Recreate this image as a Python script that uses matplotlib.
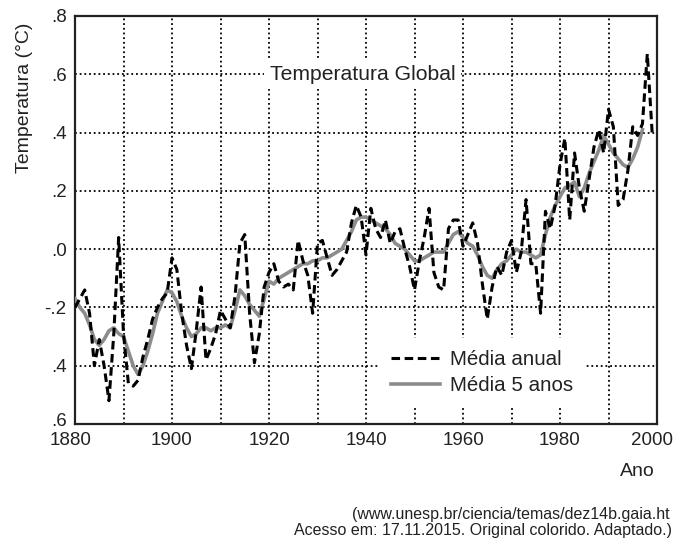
import matplotlib
matplotlib.use("Agg")
import matplotlib.pyplot as plt
import matplotlib.transforms as mtransforms

plt.rcParams['font.family'] = ['Liberation Sans', 'DejaVu Sans']

years_annual = list(range(1880, 2000))
annual = [
    -0.20, -0.17, -0.14, -0.22, -0.40, -0.31, -0.40, -0.52, -0.29, 0.04,
    -0.29, -0.46, -0.47, -0.45, -0.37, -0.31, -0.24, -0.20, -0.17, -0.15,
    -0.03, -0.07, -0.22, -0.33, -0.41, -0.28, -0.13, -0.38, -0.34, -0.29,
    -0.21, -0.24, -0.27, -0.16, 0.02, 0.05, -0.22, -0.39, -0.29, -0.13,
    -0.08, -0.05, -0.11, -0.13, -0.12, -0.14, 0.03, -0.04, -0.09, -0.22,
    0.02, 0.03, -0.03, -0.09, -0.07, -0.04, -0.01, 0.09, 0.15, 0.11,
    -0.02, 0.14, 0.07, 0.04, 0.10, 0.02, 0.06, 0.07, 0.00, -0.06,
    -0.14, -0.04, 0.04, 0.14, -0.08, -0.13, -0.14, 0.07, 0.10, 0.10,
    0.01, 0.05, 0.09, 0.02, -0.12, -0.24, -0.13, -0.06, -0.09, -0.01,
    0.03, -0.08, -0.01, 0.17, -0.05, -0.05, -0.22, 0.13, 0.07, 0.15,
    0.29, 0.38, 0.10, 0.33, 0.21, 0.13, 0.24, 0.35, 0.41, 0.33,
    0.48, 0.42, 0.15, 0.17, 0.27, 0.42, 0.39, 0.43, 0.67, 0.40,
]

years_5yr = list(range(1880, 1998))
mean5 = [
    -0.17, -0.20, -0.22, -0.26, -0.31, -0.33, -0.31, -0.28, -0.27, -0.29,
    -0.30, -0.35, -0.40, -0.43, -0.40, -0.35, -0.29, -0.22, -0.18, -0.14,
    -0.15, -0.18, -0.23, -0.27, -0.30, -0.29, -0.27, -0.27, -0.28, -0.27,
    -0.27, -0.26, -0.27, -0.21, -0.14, -0.16, -0.19, -0.21, -0.23, -0.17,
    -0.11, -0.12, -0.10, -0.09, -0.08, -0.07, -0.06, -0.05, -0.05, -0.04,
    -0.04, -0.03, -0.03, -0.02, -0.01, 0.00, 0.03, 0.06, 0.10, 0.11,
    0.11, 0.10, 0.09, 0.08, 0.07, 0.05, 0.02, 0.01, 0.00, -0.02,
    -0.04, -0.04, -0.03, -0.02, -0.01, -0.01, -0.01, 0.02, 0.05, 0.06,
    0.04, 0.02, 0.01, -0.02, -0.06, -0.09, -0.10, -0.07, -0.05, -0.04,
    -0.02, 0.00, -0.01, -0.01, -0.02, -0.03, -0.02, 0.05, 0.11, 0.15,
    0.18, 0.21, 0.22, 0.23, 0.18, 0.21, 0.26, 0.30, 0.34, 0.39,
    0.36, 0.33, 0.31, 0.29, 0.28, 0.31, 0.35, 0.41,
]

x_ticks = [1880, 1900, 1920, 1940, 1960, 1980, 2000]
x_grid = [1890, 1900, 1910, 1920, 1930, 1940, 1950, 1960, 1970, 1980, 1990]
y_ticks = [-0.6, -0.4, -0.2, 0.0, 0.2, 0.4, 0.6, 0.8]
y_ticklabels = [".6", ".4", "-.2", ".0", ".2", ".4", ".6", ".8"]
y_grid = [-0.4, -0.2, 0.0, 0.2, 0.4, 0.6]

fig = plt.figure(figsize=(6.76, 5.43), dpi=100)
ax = fig.add_axes([75/676, 1 - 424/543, (657-75)/676, (424-16)/543])

for xv in x_grid:
    ax.axvline(xv, color='black', linestyle=(0, (1, 1.6)), lw=1.3, zorder=1)
for yv in y_grid:
    ax.axhline(yv, color='black', linestyle=(0, (1, 1.6)), lw=1.3, zorder=1)

ax.plot(years_5yr, mean5, color='#8c8c8c', lw=2.6, zorder=3, label='Média 5 anos')
ax.plot(years_annual, annual, color='black', lw=2.2, dashes=(2.8, 1.5), zorder=4,
        label='Média anual')

ax.set_xlim(1880, 2000)
ax.set_ylim(-0.6, 0.8)
ax.set_xticks(x_ticks)
ax.set_xticklabels([str(v) for v in x_ticks])
ax.set_yticks(y_ticks)
ax.set_yticklabels(y_ticklabels)
ax.tick_params(length=0, labelsize=13.5, pad=6, colors='#222222')
for s in ax.spines.values():
    s.set_linewidth(1.6)
    s.set_color('#222222')

# nudge edge tick labels like the reference
xlabels = ax.get_xticklabels()
xlabels[0].set_transform(xlabels[0].get_transform() +
                         mtransforms.ScaledTranslation(-4/100, 0, fig.dpi_scale_trans))
xlabels[-1].set_transform(xlabels[-1].get_transform() +
                          mtransforms.ScaledTranslation(-5/100, 0, fig.dpi_scale_trans))
ylabels = ax.get_yticklabels()
ylabels[0].set_transform(ylabels[0].get_transform() +
                         mtransforms.ScaledTranslation(0, 4/100, fig.dpi_scale_trans))

ax.text(1920.2, 0.6, 'Temperatura Global', fontsize=15.2, color='#222222',
        va='center', ha='left', zorder=5,
        bbox=dict(facecolor='white', edgecolor='none', pad=4))

handles, labels = ax.get_legend_handles_labels()
leg = ax.legend([handles[1], handles[0]], [labels[1], labels[0]],
                loc='lower right', bbox_to_anchor=(0.895, 0.015),
                frameon=True, fontsize=14.8, handlelength=2.4,
                labelspacing=0.35, borderpad=0.6, handletextpad=0.5)
leg.get_frame().set_edgecolor('none')
leg.get_frame().set_facecolor('white')
leg.get_frame().set_alpha(1.0)
leg.get_frame().set_boxstyle('square', pad=0.0)
for t in leg.get_texts():
    t.set_color('#222222')

fig.text(25/676, 1 - 98/543, 'Temperatura (°C)', rotation=90, fontsize=14,
         color='#222222', ha='center', va='center')
fig.text(637/676, 1 - 472/543, 'Ano', fontsize=14, color='#222222',
         ha='center', va='center')
fig.text(670/676, 1 - 515/543, '(www.unesp.br/ciencia/temas/dez14b.gaia.ht',
         fontsize=11.5, color='#222222', ha='right', va='center')
fig.text(672/676, 1 - 530/543, 'Acesso em: 17.11.2015. Original colorido. Adaptado.)',
         fontsize=11.5, color='#222222', ha='right', va='center')

fig.savefig('out.png', dpi=100)
